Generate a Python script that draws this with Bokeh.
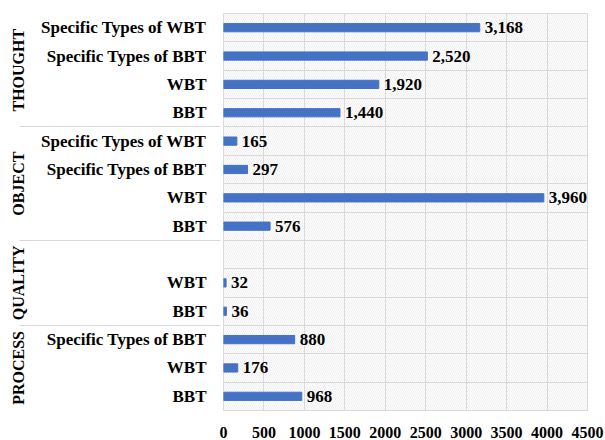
from bokeh.plotting import figure
from bokeh.models import FactorRange, ColumnDataSource, LabelSet, BoxAnnotation, FixedTicker, Grid
from bokeh.embed import file_html
from bokeh.resources import INLINE

# Data (bottom to top)
groups = ["PROCESS", "PROCESS", "PROCESS",
          "QUALITY", "QUALITY", "QUALITY",
          "OBJECT", "OBJECT", "OBJECT", "OBJECT",
          "THOUGHT", "THOUGHT", "THOUGHT", "THOUGHT"]
subs = ["BBT", "WBT", "Specific Types of BBT",
        "BBT", "WBT", " ",
        "BBT", "WBT", "Specific Types of BBT", "Specific Types of WBT",
        "BBT", "WBT", "Specific Types of BBT", "Specific Types of WBT"]
values = [968, 176, 880,
          36, 32, None,
          576, 3960, 297, 165,
          1440, 1920, 2520, 3168]
x_ticks = [0, 500, 1000, 1500, 2000, 2500, 3000, 3500, 4000, 4500]

factors = list(zip(groups, subs))
idx = [i for i, v in enumerate(values) if v is not None]
src = ColumnDataSource(dict(
    y=[factors[i] for i in idx],
    v=[values[i] for i in idx],
    lab=[f"{values[i]:,}" for i in idx],
))

yr = FactorRange(*factors, group_padding=0, factor_padding=0, range_padding=0)
FONT = "Liberation Serif"

p = figure(width=605, height=440, y_range=yr, x_range=(0, 4500),
           output_backend="svg", toolbar_location=None)
p.min_border_left = 223
p.min_border_right = 18
p.min_border_top = 13
p.min_border_bottom = 27
p.outline_line_color = "#d9d9d9"

# hatched background
p.add_layout(BoxAnnotation(fill_color="white", fill_alpha=0, line_alpha=0,
                           hatch_pattern="\\", hatch_color="#dedede",
                           hatch_scale=4, hatch_weight=0.5, level="underlay"))

p.hbar(y="y", right="v", left=0, height=0.29, source=src, color="#4472C4")
p.add_layout(LabelSet(x="v", y="y", text="lab", source=src, x_offset=5,
                      text_baseline="middle", text_font=FONT,
                      text_font_style="bold", text_font_size="17px",
                      text_color="black"))

# grid
p.xgrid.ticker = FixedTicker(ticks=x_ticks)
p.xgrid.grid_line_color = "#d9d9d9"
p.ygrid.grid_line_color = None
p.add_layout(Grid(dimension=1, ticker=FixedTicker(ticks=list(range(len(factors) + 1))),
                  grid_line_color="#d9d9d9"))

# x axis
p.xaxis.ticker = FixedTicker(ticks=x_ticks)
p.xaxis.axis_line_color = None
p.xaxis.major_tick_line_color = None
p.xaxis.minor_tick_line_color = None
p.xaxis.major_label_text_font = FONT
p.xaxis.major_label_text_font_style = "bold"
p.xaxis.major_label_text_font_size = "16px"
p.xaxis.major_label_text_color = "black"
p.xaxis.major_label_standoff = 10

# y axis
ya = p.yaxis[0]
ya.axis_line_color = None
ya.major_tick_line_color = None
ya.minor_tick_line_color = None
ya.major_label_text_font = FONT
ya.major_label_text_font_style = "bold"
ya.major_label_text_font_size = "17px"
ya.major_label_text_color = "black"
ya.major_label_standoff = 11
ya.group_text_font = FONT
ya.group_text_font_style = "bold"
ya.group_text_font_size = "16px"
ya.group_text_color = "black"
ya.separator_line_color = "#d9d9d9"
ya.separator_line_width = 1

open("out.html", "w").write(file_html(p, INLINE))
